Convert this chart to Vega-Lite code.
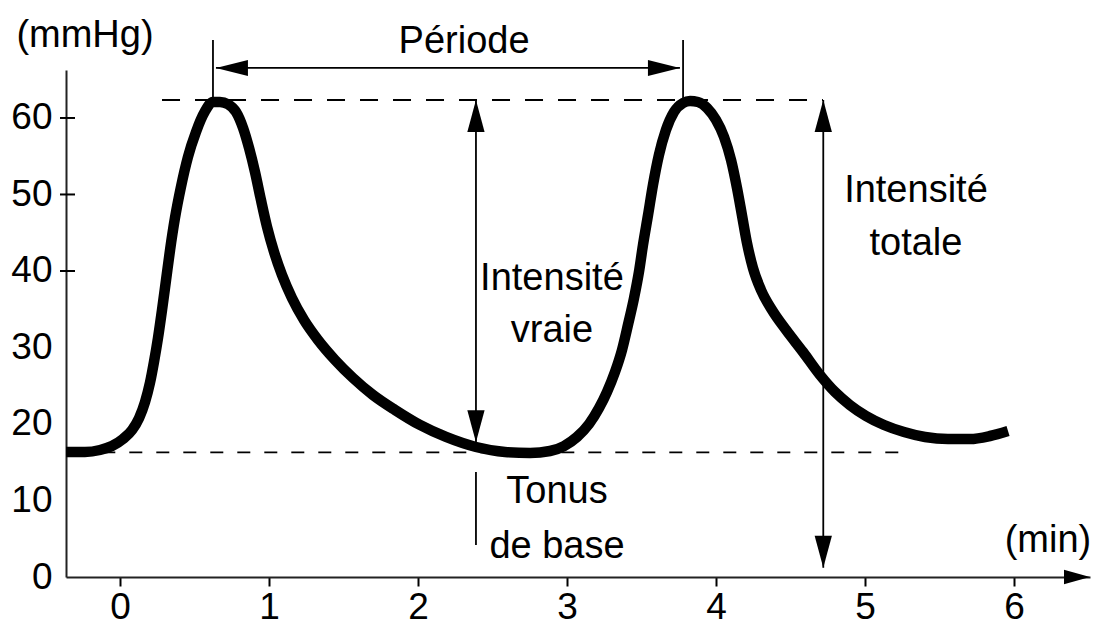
{
  "$schema": "https://vega.github.io/schema/vega-lite/v6.json",
  "width": 1024,
  "height": 507,
  "autosize": {"type": "none"},
  "padding": {"left": 66, "top": 70, "right": 10, "bottom": 53},
  "background": "white",
  "config": {
    "view": {"stroke": null},
    "font": "Liberation Sans",
    "axis": {"grid": false, "title": null, "domainColor": "#222222", "domainWidth": 2, "tickColor": "black", "tickWidth": 2, "labelColor": "black", "labelFont": "Liberation Sans", "labelFontSize": 37}
  },
  "datasets": {
    "curve": [
      {"t": -0.362, "p": 16.34}, {"t": -0.235, "p": 16.34}, {"t": -0.134, "p": 16.6}, {"t": -0.054, "p": 17.12},
      {"t": 0.02, "p": 18.04}, {"t": 0.081, "p": 19.22}, {"t": 0.128, "p": 20.78}, {"t": 0.168, "p": 22.88},
      {"t": 0.201, "p": 25.36}, {"t": 0.228, "p": 28.1}, {"t": 0.255, "p": 31.24}, {"t": 0.282, "p": 34.9},
      {"t": 0.309, "p": 38.82}, {"t": 0.336, "p": 42.75}, {"t": 0.369, "p": 46.93}, {"t": 0.409, "p": 50.98},
      {"t": 0.456, "p": 54.9}, {"t": 0.51, "p": 58.17}, {"t": 0.57, "p": 60.85}, {"t": 0.624, "p": 62.1},
      {"t": 0.671, "p": 62.1}, {"t": 0.725, "p": 61.8}, {"t": 0.779, "p": 60.78}, {"t": 0.826, "p": 58.69},
      {"t": 0.866, "p": 56.08}, {"t": 0.906, "p": 52.94}, {"t": 0.946, "p": 49.28}, {"t": 0.987, "p": 45.75},
      {"t": 1.034, "p": 42.48}, {"t": 1.087, "p": 39.48}, {"t": 1.154, "p": 36.47}, {"t": 1.235, "p": 33.59},
      {"t": 1.329, "p": 30.98}, {"t": 1.443, "p": 28.37}, {"t": 1.564, "p": 26.01}, {"t": 1.698, "p": 23.79},
      {"t": 1.846, "p": 21.83}, {"t": 2.013, "p": 19.87}, {"t": 2.188, "p": 18.3}, {"t": 2.389, "p": 16.99},
      {"t": 2.584, "p": 16.34}, {"t": 2.752, "p": 16.21}, {"t": 2.886, "p": 16.47}, {"t": 2.98, "p": 17.12},
      {"t": 3.067, "p": 18.3}, {"t": 3.148, "p": 20.0}, {"t": 3.215, "p": 22.09}, {"t": 3.268, "p": 24.18},
      {"t": 3.322, "p": 26.8}, {"t": 3.369, "p": 29.67}, {"t": 3.409, "p": 32.94}, {"t": 3.45, "p": 36.47},
      {"t": 3.483, "p": 39.87}, {"t": 3.51, "p": 43.4}, {"t": 3.544, "p": 47.32}, {"t": 3.577, "p": 51.24},
      {"t": 3.617, "p": 55.16}, {"t": 3.664, "p": 58.43}, {"t": 3.718, "p": 60.78}, {"t": 3.779, "p": 61.96},
      {"t": 3.826, "p": 62.22}, {"t": 3.879, "p": 62.09}, {"t": 3.94, "p": 61.31}, {"t": 4.0, "p": 59.74},
      {"t": 4.054, "p": 57.52}, {"t": 4.101, "p": 54.51}, {"t": 4.141, "p": 50.85}, {"t": 4.174, "p": 47.32},
      {"t": 4.208, "p": 43.66}, {"t": 4.248, "p": 40.39}, {"t": 4.302, "p": 37.52}, {"t": 4.376, "p": 34.9},
      {"t": 4.47, "p": 32.29}, {"t": 4.584, "p": 29.41}, {"t": 4.698, "p": 26.41}, {"t": 4.799, "p": 24.18},
      {"t": 4.899, "p": 22.48}, {"t": 5.007, "p": 21.05}, {"t": 5.128, "p": 19.87}, {"t": 5.262, "p": 18.95},
      {"t": 5.403, "p": 18.3}, {"t": 5.557, "p": 18.04}, {"t": 5.705, "p": 18.04}, {"t": 5.839, "p": 18.43},
      {"t": 5.96, "p": 19.08}
    ],
    "yticks": [{"v": 40}, {"v": 50}, {"v": 60}],
    "segments": [
      {"x": 0.624, "x2": 0.624, "y": 62.35, "y2": 70.2},
      {"x": 3.779, "x2": 3.779, "y": 62.35, "y2": 70.2},
      {"x": 0.644, "x2": 3.758, "y": 66.54, "y2": 66.54},
      {"x": 2.389, "x2": 2.389, "y": 62.35, "y2": 17.6},
      {"x": 4.72, "x2": 4.72, "y": 62.35, "y2": 1.2},
      {"x": 2.389, "x2": 2.389, "y": 13.73, "y2": 4.18}
    ],
    "heads": [
      {"x": 0.644, "y": 66.54, "dir": "left"},
      {"x": 3.758, "y": 66.54, "dir": "right"},
      {"x": 2.389, "y": 62.35, "dir": "up"},
      {"x": 2.389, "y": 17.6, "dir": "down"},
      {"x": 4.72, "y": 62.35, "dir": "up"},
      {"x": 4.72, "y": 1.2, "dir": "down"}
    ],
    "axisHead": [{"x": 6.51, "y": 0, "dir": "right"}],
    "dashTop": [{"x": 0.282, "x2": 4.718, "y": 62.35}],
    "dashBottom": [{"x": -0.3, "x2": 5.248, "y": 16.3}],
    "labels": [
      {"x": -0.235, "y": 69.3, "label": "(mmHg)"},
      {"x": 2.309, "y": 68.5, "label": "Période"},
      {"x": 2.899, "y": 37.52, "label": "Intensité"},
      {"x": 2.899, "y": 30.72, "label": "vraie"},
      {"x": 5.342, "y": 49.02, "label": "Intensité"},
      {"x": 5.342, "y": 42.09, "label": "totale"},
      {"x": 2.933, "y": 9.67, "label": "Tonus"},
      {"x": 2.933, "y": 2.48, "label": "de base"},
      {"x": 6.228, "y": 3.27, "label": "(min)"}
    ]
  },
  "layer": [
    {
      "data": {"name": "dashTop"},
      "mark": {"type": "rule", "color": "black", "strokeWidth": 1.8, "strokeDash": [18, 15]},
      "encoding": {
        "x": {"field": "x", "type": "quantitative", "scale": {"domain": [-0.3624, 6.5101], "nice": false, "zero": false},
          "axis": {"values": [0, 1, 2, 3, 4, 5, 6], "format": "d", "tickSize": 9, "labelPadding": 3}},
        "x2": {"field": "x2"},
        "y": {"field": "y", "type": "quantitative", "scale": {"domain": [0, 66.27], "nice": false},
          "axis": {"values": [0, 10, 20, 30, 40, 50, 60], "format": "d", "ticks": false, "labelPadding": 14}}
      }
    },
    {
      "data": {"name": "yticks"},
      "mark": {"type": "rule", "color": "black", "strokeWidth": 2},
      "encoding": {
        "x": {"datum": -0.4027, "type": "quantitative"},
        "x2": {"datum": -0.302},
        "y": {"field": "v", "type": "quantitative"}
      }
    },
    {
      "data": {"name": "dashBottom"},
      "mark": {"type": "rule", "color": "black", "strokeWidth": 1.8, "strokeDash": [13, 14]},
      "encoding": {
        "x": {"field": "x", "type": "quantitative"},
        "x2": {"field": "x2"},
        "y": {"field": "y", "type": "quantitative"}
      }
    },
    {
      "data": {"name": "curve"},
      "mark": {"type": "line", "color": "black", "strokeWidth": 10.5, "interpolate": "monotone", "strokeCap": "butt", "strokeJoin": "round"},
      "encoding": {
        "x": {"field": "t", "type": "quantitative"},
        "y": {"field": "p", "type": "quantitative"}
      }
    },
    {
      "data": {"name": "segments"},
      "mark": {"type": "rule", "color": "black", "strokeWidth": 1.8},
      "encoding": {
        "x": {"field": "x", "type": "quantitative"},
        "x2": {"field": "x2"},
        "y": {"field": "y", "type": "quantitative"},
        "y2": {"field": "y2"}
      }
    },
    {
      "data": {"name": "heads"},
      "mark": {"type": "point", "filled": true, "color": "black", "opacity": 1, "size": 1024, "strokeWidth": 0},
      "encoding": {
        "x": {"field": "x", "type": "quantitative"},
        "y": {"field": "y", "type": "quantitative"},
        "shape": {"field": "dir", "type": "nominal", "legend": null,
          "scale": {"domain": ["up", "down", "left", "right"],
            "range": ["M0,0L0.54,2L-0.54,2Z", "M0,0L0.54,-2L-0.54,-2Z", "M0,0L2,0.5L2,-0.5Z", "M0,0L-2,0.5L-2,-0.5Z"]}}
      }
    },
    {
      "data": {"name": "axisHead"},
      "mark": {"type": "point", "filled": true, "color": "black", "opacity": 1, "size": 676, "strokeWidth": 0, "shape": "M0,0L-2,0.55L-2,-0.55Z"},
      "encoding": {
        "x": {"field": "x", "type": "quantitative"},
        "y": {"field": "y", "type": "quantitative"}
      }
    },
    {
      "data": {"name": "labels"},
      "mark": {"type": "text", "font": "Liberation Sans", "fontSize": 38, "color": "black", "align": "center", "baseline": "alphabetic"},
      "encoding": {
        "x": {"field": "x", "type": "quantitative"},
        "y": {"field": "y", "type": "quantitative"},
        "text": {"field": "label"}
      }
    }
  ]
}
